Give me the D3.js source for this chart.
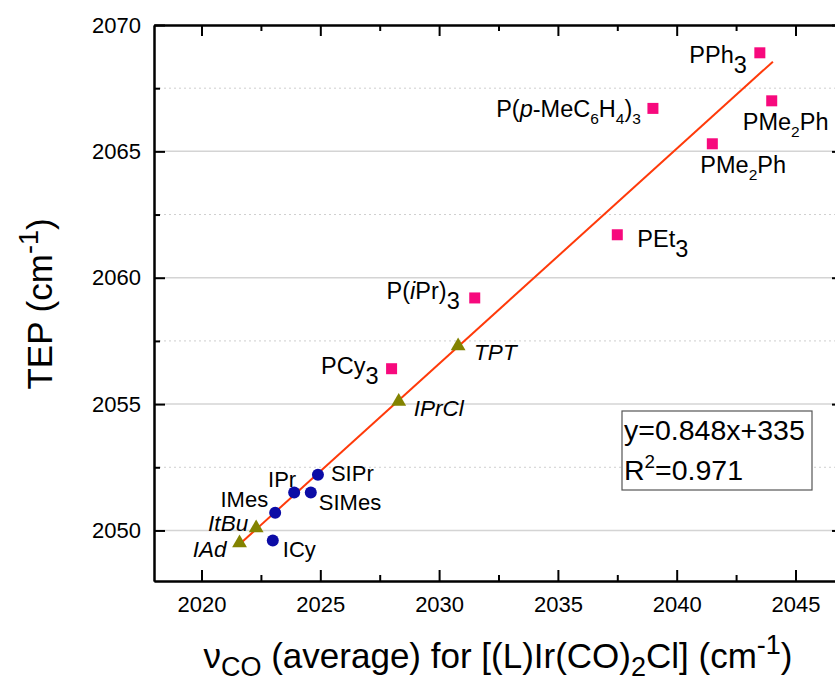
<!DOCTYPE html>
<html>
<head>
<meta charset="utf-8">
<script src="https://cdn.jsdelivr.net/npm/d3@7"></script>
<style>
body{margin:0;background:#fff;}
text{font-family:Arial,"Liberation Sans",sans-serif;fill:#000;}
</style>
</head>
<body>
<svg id="chart" width="835" height="683"></svg>
<script>
////////////////////////////////////////////////////
// data
//  markup in names : _c small subscript, ~c lowered full-size char, *..* italic
////////////////////////////////////////////////////
var phosNames = ["PPh~3","P(*p*-MeC_6H_4)_3","PMe_2Ph","PMe_2Ph","PEt~3","P(*i*Pr)~3","PCy~3"];
var phosX = [2043.5, 2039.0, 2044.0, 2041.5, 2037.5, 2031.5, 2028.0];
var phosY = [2068.9, 2066.7, 2067.0, 2065.3, 2061.7, 2059.2, 2056.4];

var nhcNames = ["SIPr","IPr","SIMes","IMes","ICy"];
var nhcX = [2024.9, 2023.9, 2024.6, 2023.1, 2023.0];
var nhcY = [2052.2, 2051.5, 2051.5, 2050.7, 2049.6];

var triNames = ["*TPT*","*IPrCl*","*ItBu*","*IAd*"];
var triX = [2030.8, 2028.3, 2022.3, 2021.6];
var triY = [2057.3, 2055.1, 2050.1, 2049.5];

var fitX = [2021.6, 2044.05];
var fitY = [2049.45, 2068.55];

var xTicks = [2020, 2025, 2030, 2035, 2040, 2045];
var xMinor = [2022.5, 2027.5, 2032.5, 2037.5, 2042.5];
var yTicks = [2050, 2055, 2060, 2065, 2070];
var yMinor = [2052.5, 2057.5, 2062.5, 2067.5];
var fitLines = ["y=0.848x+335", "R^2=0.971"];

// label placement : [anchor, dx, dy] relative to the marker
var phosLab = [["end",-13,10],["end",-12,9],["start",-29,29],["start",-12,29],["start",20,12],["end",-15,1],["end",-13,5]];
var nhcLab = [["start",13,6],["end",2,-6],["start",8,17],["end",-7,-6],["start",10,16]];
var triLab = [["start",16,14],["start",15,14],["end",-8,3],["end",-13,14]];
////////////////////////////////////////////////////

var L = 154, R = 843, T = 25, B = 581;
var svg = d3.select("#chart");

var x = d3.scaleLinear().domain([2018, 2047]).range([L, R]);
var y = d3.scaleLinear().domain([2048, 2070]).range([B, T]);

// grid
var grid = svg.append("g");
grid.selectAll(".gmaj")
	.data(yTicks.filter(function(v){return v < 2070;}))
	.enter().append("line")
		.attr("x1", L).attr("x2", R)
		.attr("y1", function(d){return y(d);}).attr("y2", function(d){return y(d);})
		.attr("stroke", "#d4d4d4").attr("stroke-width", 1.5);
grid.selectAll(".gmin")
	.data(yMinor)
	.enter().append("line")
		.attr("x1", L).attr("x2", R)
		.attr("y1", function(d){return y(d);}).attr("y2", function(d){return y(d);})
		.attr("stroke", "#cfcfcf").attr("stroke-width", 1)
		.attr("stroke-dasharray", "2,3");

function styleAxis(g) {
	g.select(".domain").attr("stroke", "#000").attr("stroke-width", 2);
	g.selectAll(".tick line").attr("stroke", "#000").attr("stroke-width", 2);
	g.selectAll("text").attr("font-size", 22).attr("font-family", "Arial, 'Liberation Sans', sans-serif").attr("fill", "#000");
}

// axes
svg.append("g").attr("transform", "translate(0," + B + ")")
	.call(d3.axisBottom(x).tickValues(xTicks).tickFormat(d3.format("d")).tickSize(-11).tickSizeOuter(0).tickPadding(15))
	.call(styleAxis);
svg.append("g").attr("transform", "translate(0," + B + ")")
	.call(d3.axisBottom(x).tickValues(xMinor).tickFormat("").tickSize(-6).tickSizeOuter(0))
	.call(styleAxis);
svg.append("g").attr("transform", "translate(0," + T + ")")
	.call(d3.axisTop(x).tickValues(xTicks).tickFormat("").tickSize(-11).tickSizeOuter(0))
	.call(styleAxis);
svg.append("g").attr("transform", "translate(0," + T + ")")
	.call(d3.axisTop(x).tickValues(xMinor).tickFormat("").tickSize(-6).tickSizeOuter(0))
	.call(styleAxis);
svg.append("g").attr("transform", "translate(" + L + ",0)")
	.call(d3.axisLeft(y).tickValues(yTicks).tickFormat(d3.format("d")).tickSize(-11).tickSizeOuter(0).tickPadding(13))
	.call(styleAxis);
svg.append("g").attr("transform", "translate(" + L + ",0)")
	.call(d3.axisLeft(y).tickValues(yMinor).tickFormat("").tickSize(-6).tickSizeOuter(0))
	.call(styleAxis);
svg.append("g").attr("transform", "translate(" + R + ",0)")
	.call(d3.axisRight(y).tickValues(yTicks).tickFormat("").tickSize(-11).tickSizeOuter(0))
	.call(styleAxis);
svg.append("g").attr("transform", "translate(" + R + ",0)")
	.call(d3.axisRight(y).tickValues(yMinor).tickFormat("").tickSize(-6).tickSizeOuter(0))
	.call(styleAxis);

// fit line
svg.append("path")
	.datum(d3.zip(fitX, fitY))
	.attr("fill", "none")
	.attr("stroke", "#ff3a0a")
	.attr("stroke-width", 2)
	.attr("d", d3.line().x(function(d){return x(d[0]);}).y(function(d){return y(d[1]);}));

// markers
function series(xs, ys) { return d3.zip(xs, ys); }
svg.append("g").selectAll("rect")
	.data(series(phosX, phosY))
	.enter().append("rect")
		.attr("x", function(d){return x(d[0]) - 5.5;})
		.attr("y", function(d){return y(d[1]) - 5.5;})
		.attr("width", 11).attr("height", 11)
		.attr("fill", "#f7097d");
svg.append("g").selectAll("circle")
	.data(series(nhcX, nhcY))
	.enter().append("circle")
		.attr("cx", function(d){return x(d[0]);})
		.attr("cy", function(d){return y(d[1]);})
		.attr("r", 6)
		.attr("fill", "#0c0ca6");
svg.append("g").selectAll("path")
	.data(series(triX, triY))
	.enter().append("path")
		.attr("transform", function(d){return "translate(" + x(d[0]) + "," + y(d[1]) + ")";})
		.attr("d", d3.symbol().type(d3.symbolTriangle).size(95))
		.attr("fill", "#838300");

// rich text: _c small sub, ~c lowered char, ^c superscript, *..* italic
function richText(sel, s, size) {
	var italic = false, shift = 0, i = 0;
	while (i < s.length) {
		var c = s[i], t, want = 0, fs = size;
		if (c === "*") { italic = !italic; i++; continue; }
		if (c === "_") { t = s[i+1]; want = 0.3*size; fs = 0.66*size; i += 2; }
		else if (c === "~") { t = s[i+1]; want = 0.42*size; fs = size; i += 2; }
		else if (c === "^") { t = s[i+1]; want = -0.42*size; fs = 0.66*size; i += 2; }
		else { t = c; i++; }
		sel.append("tspan")
			.attr("dy", want - shift)
			.attr("font-size", fs)
			.attr("font-style", italic ? "italic" : "normal")
			.text(t);
		shift = want;
	}
}

function labels(names, xs, ys, lab, size) {
	names.forEach(function(n, i) {
		var t = svg.append("text")
			.attr("x", x(xs[i]) + lab[i][1])
			.attr("y", y(ys[i]) + lab[i][2])
			.attr("text-anchor", lab[i][0])
			.attr("font-size", size);
		richText(t, n, size);
	});
}
labels(phosNames, phosX, phosY, phosLab, 23.5);
labels(nhcNames, nhcX, nhcY, nhcLab, 22);
labels(triNames, triX, triY, triLab, 22.5);

// fit annotation
var box = svg.append("g").attr("transform", "translate(622,411)");
box.append("rect").attr("width", 190).attr("height", 79)
	.attr("fill", "#fff").attr("stroke", "#555").attr("stroke-width", 1.2);
fitLines.forEach(function(s, i) {
	var t = box.append("text").attr("x", 2).attr("y", 29 + i*40).attr("font-size", 28.5);
	richText(t, s, 28.5);
});

// axis titles
var xt = svg.append("text").attr("x", 498).attr("y", 668).attr("text-anchor", "middle").attr("font-size", 35);
xt.append("tspan").text("ν");
xt.append("tspan").attr("dy", 8).attr("font-size", 27).text("CO");
xt.append("tspan").attr("dy", -8).attr("font-size", 35).text(" (average) for [(L)Ir(CO)");
xt.append("tspan").attr("dy", 8).attr("font-size", 27).text("2");
xt.append("tspan").attr("dy", -8).attr("font-size", 35).text("Cl] (cm");
xt.append("tspan").attr("dy", -14).attr("font-size", 27).text("-1");
xt.append("tspan").attr("dy", 14).attr("font-size", 35).text(")");

var yt = svg.append("text").attr("transform", "translate(52,304) rotate(-90)")
	.attr("text-anchor", "middle").attr("font-size", 35);
yt.append("tspan").text("TEP (cm");
yt.append("tspan").attr("dy", -14).attr("font-size", 27).text("-1");
yt.append("tspan").attr("dy", 14).text(")");
</script>
</body>
</html>
